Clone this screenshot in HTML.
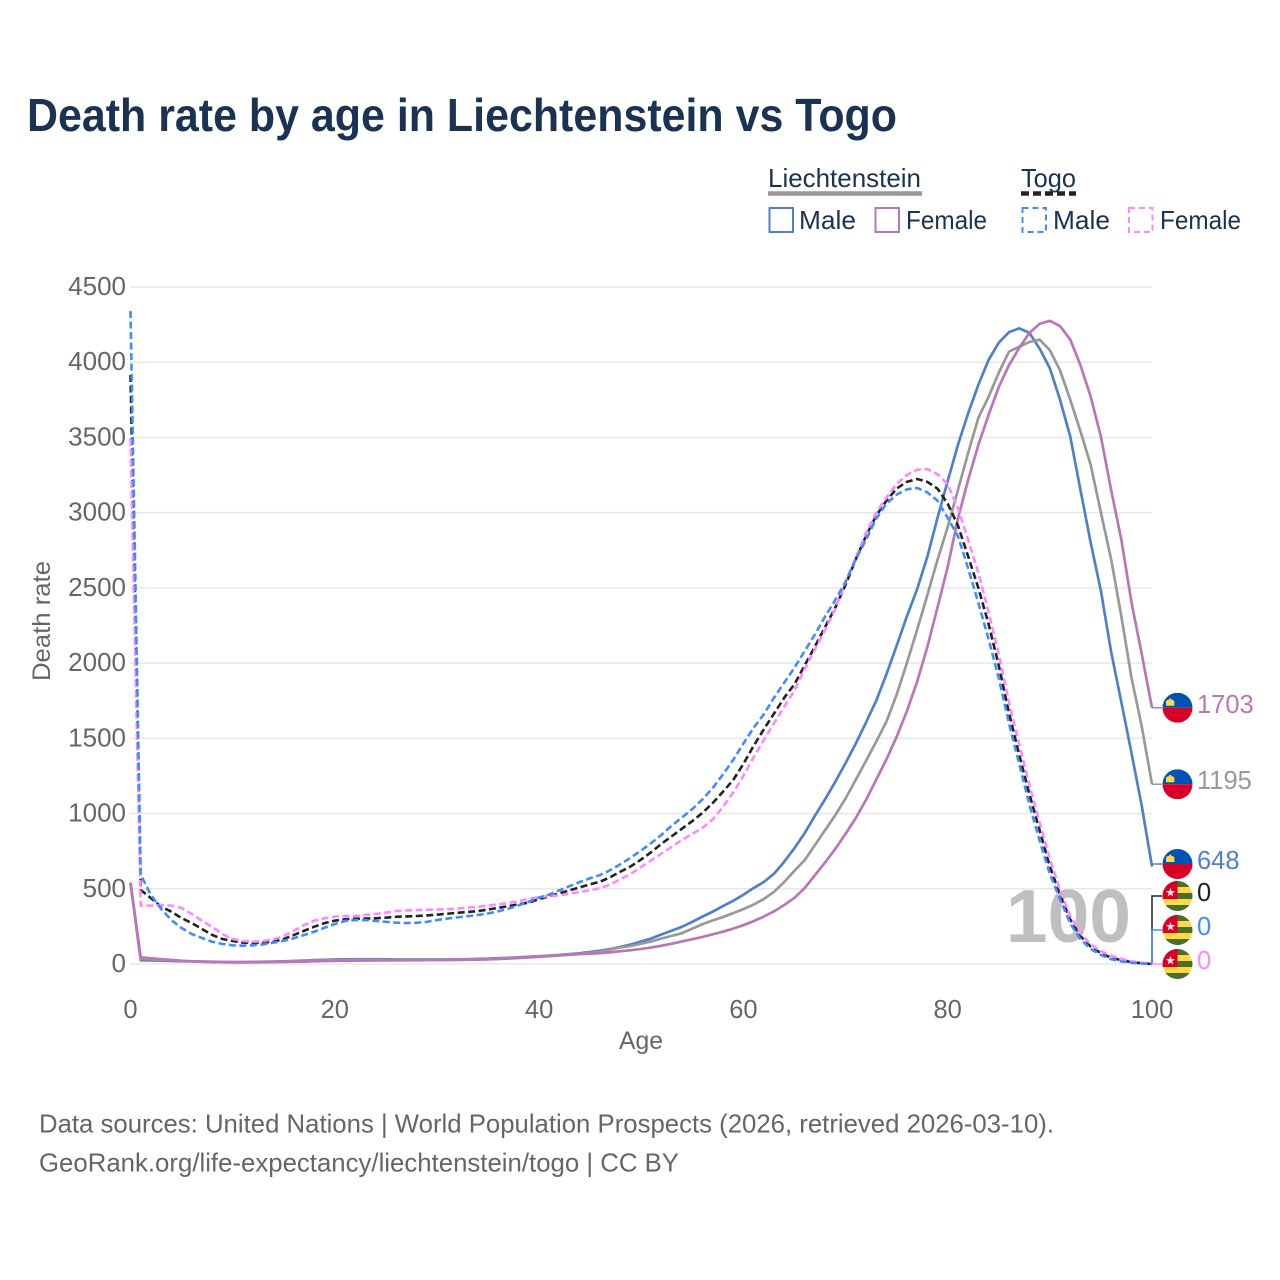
<!DOCTYPE html>
<html lang="en">
<head>
<meta charset="utf-8">
<title>Death rate by age in Liechtenstein vs Togo</title>
<style>
html,body{margin:0;padding:0;background:#fff;}
svg{display:block;font-family:"Liberation Sans",sans-serif;}
</style>
</head>
<body>
<svg id="chart" xmlns="http://www.w3.org/2000/svg" width="1280" height="1280" viewBox="0 0 1280 1280">
  <rect width="1280" height="1280" fill="#ffffff"/>
  <text x="27" y="131" font-size="46" font-weight="bold" fill="#1a3352" textLength="870" lengthAdjust="spacingAndGlyphs">Death rate by age in Liechtenstein vs Togo</text>

  <g font-size="26" fill="#1a3352">
    <text x="768" y="187" textLength="153" lengthAdjust="spacingAndGlyphs">Liechtenstein</text>
    <line x1="768" x2="922" y1="193.5" y2="193.5" stroke="#999999" stroke-width="4.5"/>
    <text x="1021" y="187" textLength="55" lengthAdjust="spacingAndGlyphs">Togo</text>
    <line x1="1021" x2="1076" y1="193.5" y2="193.5" stroke="#222222" stroke-width="4.5" stroke-dasharray="8 4"/>
    <rect x="769.5" y="208" width="23.5" height="24" fill="none" stroke="#5080c8" stroke-width="2"/>
    <text x="799" y="229" textLength="57" lengthAdjust="spacingAndGlyphs">Male</text>
    <rect x="875.5" y="208" width="23.5" height="24" fill="none" stroke="#b877b8" stroke-width="2"/>
    <text x="906" y="229" textLength="81" lengthAdjust="spacingAndGlyphs">Female</text>
    <rect x="1022.5" y="208" width="23.5" height="24" fill="none" stroke="#3f8cff" stroke-width="2" stroke-dasharray="6 4"/>
    <text x="1053" y="229" textLength="57" lengthAdjust="spacingAndGlyphs">Male</text>
    <rect x="1129" y="208" width="23.5" height="24" fill="none" stroke="#ff88ff" stroke-width="2" stroke-dasharray="6 4"/>
    <text x="1160" y="229" textLength="81" lengthAdjust="spacingAndGlyphs">Female</text>
  </g>

  <g id="grid"></g>
  <g id="yticks" font-size="26" fill="#666666" text-anchor="end"></g>
  <g id="xticks" font-size="25.5" fill="#666666" text-anchor="middle"></g>
  <text x="641" y="1049" font-size="25" fill="#666666" text-anchor="middle" textLength="44" lengthAdjust="spacingAndGlyphs">Age</text>
  <text transform="translate(50 621) rotate(-90)" font-size="25" fill="#666666" text-anchor="middle" textLength="120" lengthAdjust="spacingAndGlyphs">Death rate</text>
  <text id="age-marker" x="1131" y="942" font-size="75" font-weight="bold" fill="#bfbfbf" text-anchor="end"></text>
  <g id="series"></g>
  <g id="ends"></g>

  <g font-size="26" fill="#666666">
    <text x="39" y="1132.5" textLength="1015" lengthAdjust="spacingAndGlyphs">Data sources: United Nations | World Population Prospects (2026, retrieved 2026-03-10).</text>
    <text x="39" y="1171.5" textLength="640" lengthAdjust="spacingAndGlyphs">GeoRank.org/life-expectancy/liechtenstein/togo | CC BY</text>
  </g>
</svg>
<script>
const xTicks = [0, 20, 40, 60, 80, 100];
const yTicks = [0, 500, 1000, 1500, 2000, 2500, 3000, 3500, 4000, 4500];
const ageStart = 0;

const liechtensteinMale = [540,
  25,24,22,20,18,17,15,14,13,13,
  13,14,15,16,18,20,23,26,28,30,
  31,32,32,32,31,30,30,30,30,30,
  30,31,32,34,36,38,41,44,48,52,
  56,60,66,72,80,88,100,114,130,150,
  170,197,222,248,280,315,348,385,420,460,
  505,545,600,680,770,870,985,1095,1212,1335,
  1465,1605,1750,1925,2115,2310,2490,2705,2965,3210,
  3450,3660,3850,4015,4130,4200,4225,4195,4090,3960,
  3750,3505,3150,2800,2480,2075,1740,1400,1050,648];

const liechtensteinTotal = [540,
  35,31,27,24,20,18,16,15,14,13,
  13,13,14,15,16,18,20,22,24,26,
  27,27,28,28,28,27,27,28,28,28,
  28,29,30,32,34,36,38,42,46,50,
  54,58,63,68,74,82,98,110,120,135,
  150,170,187,205,235,265,290,312,338,365,
  395,432,480,545,620,690,790,890,990,1100,
  1225,1350,1478,1610,1790,2000,2220,2450,2685,2905,
  3150,3397,3630,3770,3930,4070,4103,4135,4150,4080,
  3945,3750,3540,3317,3000,2690,2310,1900,1578,1195];

const liechtensteinFemale = [540,
  44,38,32,27,22,18,16,14,12,11,
  11,11,12,13,14,15,16,18,20,21,
  22,22,23,23,24,24,25,25,26,26,
  26,27,28,29,31,33,36,40,44,48,
  52,57,61,66,69,72,78,85,92,100,
  110,122,135,150,165,180,197,215,235,258,
  285,315,350,392,440,505,590,675,765,865,
  970,1090,1225,1360,1510,1680,1875,2105,2370,2640,
  2960,3217,3450,3650,3835,3980,4095,4195,4255,4275,
  4240,4150,3980,3770,3505,3150,2820,2400,2060,1703];

const togoMale = [4340,
  592,459,366,292,239,199,173,148,133,124,
  122,124,131,142,155,171,193,215,241,266,
  286,292,292,286,280,275,272,274,280,292,
  302,310,318,326,336,350,368,390,414,442,
  462,490,518,545,570,592,625,665,708,755,
  805,860,920,975,1030,1095,1170,1260,1356,1465,
  1570,1660,1770,1870,1970,2080,2190,2310,2420,2540,
  2690,2820,2960,3060,3120,3155,3164,3135,3080,2965,
  2845,2630,2400,2160,1900,1600,1330,1060,820,600,
  430,270,165,100,60,32,17,8,3,0];

const togoFemale = [3490,
  388,388,392,388,372,332,288,246,199,166,
  153,148,153,164,186,221,259,288,304,315,
  319,319,326,332,341,352,356,358,360,362,
  364,368,374,380,388,396,405,418,432,445,
  452,456,468,480,490,505,530,565,600,645,
  690,735,780,825,865,905,960,1045,1140,1250,
  1375,1490,1600,1710,1820,1960,2090,2220,2360,2540,
  2700,2865,3000,3100,3190,3250,3285,3290,3255,3190,
  3030,2820,2600,2340,2060,1740,1460,1190,940,700,
  490,320,205,130,85,55,35,18,8,0];

const togoTotal = [3915,
  492,438,380,348,305,272,233,193,166,153,
  142,139,142,148,166,193,221,248,272,288,
  297,301,302,304,308,314,316,319,323,328,
  334,340,346,352,362,373,385,397,408,432,
  450,470,490,510,530,548,578,615,650,695,
  745,800,850,900,950,1005,1070,1145,1223,1330,
  1450,1560,1665,1770,1860,1985,2110,2240,2370,2520,
  2690,2845,2980,3080,3160,3205,3224,3205,3160,3060,
  2915,2710,2500,2260,1985,1670,1390,1130,890,650,
  460,295,185,115,72,42,25,12,5,0];

const NS = 'http://www.w3.org/2000/svg';
const xScale = a => 130.5 + (a - 0) * (1152 - 130.5) / 100;
const yScale = v => 964 - v * (964 - 287) / 4500;

function mk(tag, attrs, parent, text) {
  const el = document.createElementNS(NS, tag);
  for (const k in attrs) el.setAttribute(k, attrs[k]);
  if (text !== undefined) el.textContent = text;
  parent.appendChild(el);
  return el;
}

const gridG = document.getElementById('grid');
const yG = document.getElementById('yticks');
const xG = document.getElementById('xticks');
const seriesG = document.getElementById('series');
const endsG = document.getElementById('ends');

yTicks.forEach(v => {
  const ln = mk('line', {x1: 130, x2: 1152, y1: yScale(v), y2: yScale(v), stroke: '#e8e8e8', 'stroke-width': 1.5}, gridG);
  
  
  const t = mk('text', {x: 126, y: yScale(v) + 8}, yG, String(v));
  
  
});
xTicks.forEach(v => {
  const t = mk('text', {x: xScale(v), y: 1018}, xG, String(v));
  
  
});

const lastAge = ageStart + liechtensteinMale.length - 1;
document.getElementById('age-marker').textContent = String(lastAge);

function drawLine(values, color, dashed, width) {
  const pts = values.map((v, i) => xScale(ageStart + i).toFixed(2) + ',' + yScale(v).toFixed(2)).join(' ');
  const attrs = {points: pts, fill: 'none', stroke: color, 'stroke-width': width, 'stroke-linejoin': 'round'};
  if (dashed) attrs['stroke-dasharray'] = '7 3.5';
  return mk('polyline', attrs, seriesG);
}

const l1 = drawLine(liechtensteinMale, '#5080c8', false, 2.7);


const l2 = drawLine(liechtensteinTotal, '#999999', false, 2.7);


const l3 = drawLine(liechtensteinFemale, '#b877b8', false, 2.7);


const l6 = drawLine(togoTotal, '#222222', true, 2.6);


const l5 = drawLine(togoFemale, '#ff88ff', true, 2.6);


const l4 = drawLine(togoMale, '#3f8cff', true, 2.6);



const defs = mk('defs', {}, endsG);
let clipId = 0;

function liechFlag(cy) {
  const g = mk('g', {}, endsG);
  const id = 'fc' + (clipId++);
  const cp = mk('clipPath', {id: id}, defs);
  mk('circle', {cx: 1177.5, cy: cy, r: 15}, cp);
  const inner = mk('g', {'clip-path': 'url(#' + id + ')'}, g);
  mk('rect', {x: 1162, y: cy - 15, width: 31, height: 15, fill: '#0052b4'}, inner);
  mk('rect', {x: 1162, y: cy, width: 31, height: 15, fill: '#d80027'}, inner);
  mk('path', {d: 'M1166 ' + (cy - 2) + 'v-3.5q0 -2.5 3 -2.5v-1.2h2.4v1.2q3 0 3 2.5v3.5z', fill: '#ffda44'}, inner);
  return g;
}

function togoFlag(cy) {
  const g = mk('g', {}, endsG);
  const id = 'fc' + (clipId++);
  const cp = mk('clipPath', {id: id}, defs);
  mk('circle', {cx: 1177.5, cy: cy, r: 15}, cp);
  const inner = mk('g', {'clip-path': 'url(#' + id + ')'}, g);
  ['#496e2d', '#ffda44', '#496e2d', '#ffda44', '#496e2d'].forEach((c, i) => {
    mk('rect', {x: 1162, y: cy - 15 + i * 6, width: 31, height: 6.1, fill: c}, inner);
  });
  mk('rect', {x: 1162, y: cy - 15, width: 15.5, height: 18, fill: '#d80027'}, inner);
  mk('text', {x: 1170.5, y: cy + 0.5, 'font-size': 12, fill: '#f0f0f0', 'text-anchor': 'middle'}, inner, '\u2605');
  return g;
}

function endLabel(value, cy, color) {
  return mk('text', {x: 1197, y: cy + 5, 'font-size': 25.5, fill: color}, endsG, String(value));
}

function elbow(fromV, cy, color) {
  return mk('polyline', {points: xScale(lastAge) + ',' + yScale(fromV) + ' ' + xScale(lastAge) + ',' + cy + ' 1162,' + cy, fill: 'none', stroke: color, 'stroke-width': 1.5}, endsG);
}

const lfEnd = liechtensteinFemale[liechtensteinFemale.length - 1];
const ltEnd = liechtensteinTotal[liechtensteinTotal.length - 1];
const lmEnd = liechtensteinMale[liechtensteinMale.length - 1];
const tfEnd = togoFemale[togoFemale.length - 1];
const tmEnd = togoMale[togoMale.length - 1];
const ttEnd = togoTotal[togoTotal.length - 1];

const e1 = elbow(lfEnd, yScale(lfEnd), '#b877b8');


const e2 = elbow(ltEnd, yScale(ltEnd), '#999999');


const e3 = elbow(lmEnd, yScale(lmEnd) - 2.5, '#5080c8');


const e4 = elbow(ttEnd, yScale(ttEnd) - 68, '#222222');


const e5 = elbow(tmEnd, yScale(tmEnd) - 34, '#3f8cff');


const e6 = elbow(tfEnd, yScale(tfEnd), '#ff88ff');



const f1 = liechFlag(yScale(lfEnd));


const f2 = liechFlag(yScale(ltEnd));


const f3 = liechFlag(yScale(lmEnd) - 2.5);


const f4 = togoFlag(yScale(ttEnd) - 68);


const f5 = togoFlag(yScale(tmEnd) - 34);


const f6 = togoFlag(yScale(tfEnd));



const t1 = endLabel(lfEnd, yScale(lfEnd), '#b877b8');


const t2 = endLabel(ltEnd, yScale(ltEnd), '#999999');


const t3 = endLabel(lmEnd, yScale(lmEnd) - 2.5, '#5080c8');


const t4 = endLabel(ttEnd, yScale(ttEnd) - 68, '#222222');


const t5 = endLabel(tmEnd, yScale(tmEnd) - 34, '#3f8cff');


const t6 = endLabel(tfEnd, yScale(tfEnd), '#ff88ff');


</script>
</body>
</html>
